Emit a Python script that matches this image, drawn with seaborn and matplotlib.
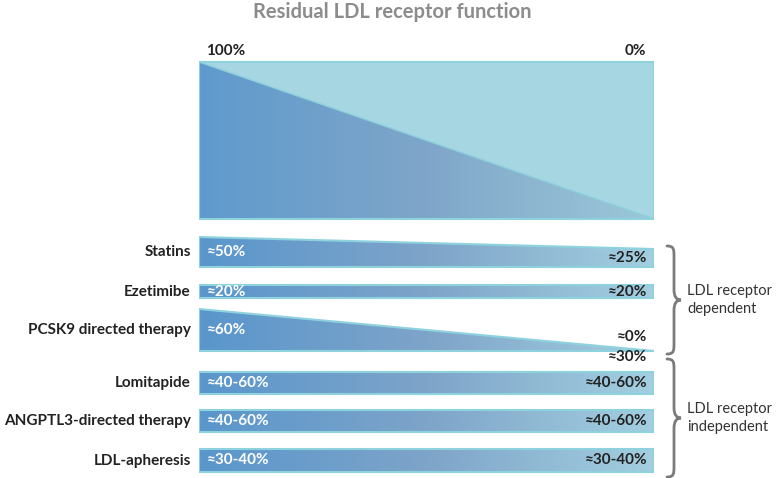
import numpy as np
import matplotlib
matplotlib.use("Agg")
import matplotlib.pyplot as plt
from matplotlib.patches import Polygon, PathPatch
from matplotlib.path import Path
import seaborn as sns

# --- data ---
therapies = ["Statins", "Ezetimibe", "PCSK9 directed therapy",
             "Lomitapide", "ANGPTL3-directed therapy", "LDL-apheresis"]
start_labels = ["≈50%", "≈20%", "≈60%", "≈40-60%", "≈40-60%", "≈30-40%"]
end_labels = ["≈25%", "≈20%", "≈0%\n≈30%", "≈40-60%", "≈40-60%", "≈30-40%"]
groups = ["LDL receptor\ndependent", "LDL receptor\nindependent"]
scale_ticks = [100, 0]
scale_labels = ["100%", "0%"]

# --- layout (pixels, y from top) ---
row_bottom = [267, 298, 351, 394, 432, 472]
thick_start = [30, 13, 42, 22, 22, 23]
thick_end = [18, 13, 0, 22, 22, 23]
top_box = (62, 219)
brace_span = [(246, 354), (359, 477)]

sns.set_theme(style="white")
plt.rcParams["font.family"] = ["Lato", "DejaVu Sans"]

grad = sns.blend_palette(["#5a96cc", "#7ea4c9", "#a3cfe0"], as_cmap=True)
tri_grad = sns.blend_palette(["#5f9acd", "#7fa6c9", "#9cc8d9"], as_cmap=True)
edge = "#8ed2de"
dark = "#222222"

fig = plt.figure(figsize=(7.77, 4.78), dpi=100)
ov = fig.add_axes([0, 0, 1, 1])
ov.set_xlim(0, 777)
ov.set_ylim(478, 0)
ov.axis("off")

ax = fig.add_axes([199 / 777, 0, 455 / 777, 1])
ax.set_xlim(100, 0)
ax.set_ylim(478, 0)
ax.axis("off")

gradient = np.linspace(0, 1, 256).reshape(1, -1)

# top panel: residual function triangle
t0, t1 = top_box
ax.add_patch(Polygon([(100, t0), (0, t0), (0, t1), (100, t1)], closed=True,
                     facecolor="#a5d6e2", edgecolor="none", zorder=1))
tri = Polygon([(100, t0), (0, t1), (100, t1)], closed=True,
              facecolor="none", edgecolor="none")
ax.add_patch(tri)
im = ax.imshow(gradient, extent=[100, 0, t1, t0], aspect="auto",
               cmap=tri_grad, zorder=2)
im.set_clip_path(tri)
ax.plot([100, 0], [t0, t1], color="#8ccfdc", lw=1, zorder=3)
ax.add_patch(Polygon([(100, t0), (0, t0), (0, t1), (100, t1)], closed=True,
                     facecolor="none", edgecolor=edge, lw=1.5, zorder=4))
for v, lab in zip(scale_ticks, scale_labels):
    ax.text(v - 1.5 if v == 100 else v + 1.8, 51, lab,
            ha="left" if v == 100 else "right", va="center",
            fontsize=11, fontweight="bold", color=dark)

# therapy bars
for i, name in enumerate(therapies):
    b = row_bottom[i]
    ts, te = thick_start[i], thick_end[i]
    verts = [(100, b), (100, b - ts), (0, b - te), (0, b)]
    ax.add_patch(Polygon(verts, closed=True, facecolor="none",
                         edgecolor=edge, lw=1.5, zorder=4))
    clip = Polygon(verts, closed=True, facecolor="none", edgecolor="none")
    ax.add_patch(clip)
    im = ax.imshow(gradient, extent=[100, 0, b, b - ts], aspect="auto",
                   cmap=grad, zorder=2)
    im.set_clip_path(clip)
    yc = b - ts / 2
    ax.text(101.8, yc, name, ha="right", va="center", fontsize=11,
            fontweight="bold", color=dark, clip_on=False)
    ax.text(98.2, yc, start_labels[i], ha="left", va="center", fontsize=11,
            fontweight="bold", color="white", zorder=5)
    ye = b - te / 2 if te > 0 else b - 4
    ax.text(1.5, ye, end_labels[i], ha="right", va="center", fontsize=11,
            fontweight="bold", color=dark, zorder=5, linespacing=1.5)

# title
ov.text(392, 12, "Residual LDL receptor function", ha="center", va="center",
        fontsize=14.5, fontweight="bold", color="#8c8c8c")


def brace(axis, x, y0, y1, w, r=7):
    ym = (y0 + y1) / 2
    xm = x + w * 0.5
    verts = [(x, y0),
             (x + w * 0.5, y0), (xm, y0 + r * 0.5), (xm, y0 + r * 1.5),
             (xm, ym - r * 1.5),
             (xm, ym - r * 0.4), (x + w * 0.7, ym), (x + w, ym),
             (x + w * 0.7, ym), (xm, ym + r * 0.4), (xm, ym + r * 1.5),
             (xm, y1 - r * 1.5),
             (xm, y1 - r * 0.5), (x + w * 0.5, y1), (x, y1)]
    codes = ([Path.MOVETO] + [Path.CURVE4] * 3 + [Path.LINETO]
             + [Path.CURVE4] * 6 + [Path.LINETO] + [Path.CURVE4] * 3)
    axis.add_patch(PathPatch(Path(verts, codes), facecolor="none",
                             edgecolor="#7b7b7b", lw=2, capstyle="round"))
    return ym


for g, (y0, y1) in enumerate(brace_span):
    ym = brace(ov, 667, y0, y1, 14)
    ov.text(687, ym, groups[g], ha="left", va="center", fontsize=10.5,
            color="#333333", linespacing=1.45)

fig.savefig("out.png", dpi=100)
